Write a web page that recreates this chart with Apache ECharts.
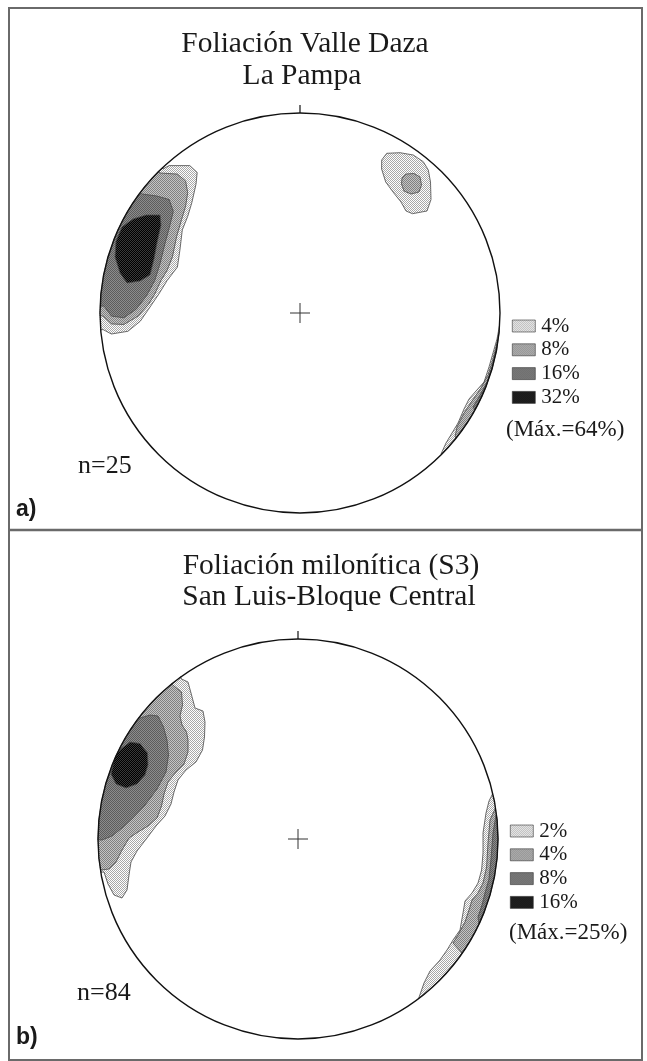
<!DOCTYPE html>
<html>
<head>
<meta charset="utf-8">
<script src="https://cdn.jsdelivr.net/npm/echarts@6/dist/echarts.min.js"></script>
<style>
html, body { margin: 0; padding: 0; background: #fff; }
#chart { width: 647px; height: 1061px; }
</style>
</head>
<body>
<div id="chart"></div>
<script>
// texts
const titlesA = ['Foliación Valle Daza', 'La Pampa'];
const titlesB = ['Foliación milonítica (S3)', 'San Luis-Bloque Central'];
const levelsA = ['4%', '8%', '16%', '32%'];
const levelsB = ['2%', '4%', '8%', '16%'];
const maxA = '(Máx.=64%)';
const maxB = '(Máx.=25%)';
const countA = 'n=25';
const countB = 'n=84';

// contour polygons, x = east, y = north, 1 = radius of the primitive circle
// (points beyond radius 1 are hidden by the mask ring)
const a4 = [
    [[-0.685,0.72],[-0.6545,0.737],[-0.551,0.737],[-0.514,0.703],[-0.52,0.644],[-0.541,0.551],[-0.5615,0.483],[-0.5885,0.4155],[-0.6005,0.314],[-0.613,0.2295],[-0.6645,0.162],[-0.706,0.0945],[-0.7575,0.0185],[-0.7985,-0.041],[-0.8605,-0.0915],[-0.943,-0.105],[-0.9845,-0.083],[-1.08,-0.09],[-1.07,0.19],[-0.98,0.46],[-0.83,0.7],[-0.74,0.79]],
    [[0.4085,0.765],[0.4335,0.7985],[0.5,0.8015],[0.5665,0.79],[0.6165,0.7565],[0.6415,0.715],[0.6525,0.655],[0.655,0.5675],[0.635,0.51],[0.5625,0.4965],[0.53,0.51],[0.505,0.555],[0.465,0.605],[0.4285,0.655],[0.408,0.72]],
    [[0.998,-0.06],[0.985,-0.13],[0.965,-0.2],[0.945,-0.27],[0.92,-0.345],[0.88,-0.39],[0.845,-0.43],[0.82,-0.48],[0.79,-0.55],[0.76,-0.6],[0.73,-0.65],[0.705,-0.705],[0.78,-0.78],[0.93,-0.6],[1.05,-0.35],[1.09,-0.1],[1.08,-0.04]]
];
const a8 = [
    [[-0.7,0.7],[-0.613,0.6945],[-0.572,0.6605],[-0.5615,0.6015],[-0.572,0.534],[-0.5925,0.4665],[-0.617,0.382],[-0.638,0.2805],[-0.665,0.2125],[-0.6955,0.162],[-0.7265,0.0945],[-0.7575,0.0435],[-0.809,-0.0155],[-0.881,-0.0575],[-0.943,-0.0545],[-0.9845,-0.0155],[-1.08,0.0],[-1.04,0.3],[-0.92,0.56],[-0.77,0.76]],
    [[0.51,0.675],[0.53,0.695],[0.57,0.6975],[0.6,0.68],[0.6075,0.64],[0.595,0.605],[0.555,0.595],[0.52,0.61],[0.5075,0.645]],
    [[0.998,-0.09],[0.98,-0.17],[0.962,-0.24],[0.94,-0.31],[0.905,-0.375],[0.86,-0.44],[0.82,-0.5],[0.785,-0.57],[0.775,-0.62],[0.82,-0.66],[1.0,-0.45],[1.08,-0.15]]
];
const a16 = [
    [[-0.79,0.595],[-0.716,0.585],[-0.6545,0.5675],[-0.6335,0.5085],[-0.65,0.441],[-0.675,0.348],[-0.7,0.2465],[-0.7265,0.162],[-0.7675,0.086],[-0.8195,0.0185],[-0.881,-0.024],[-0.943,-0.0155],[-0.98,0.035],[-1.08,0.03],[-1.03,0.35],[-0.86,0.66]],
    [[0.997,-0.1],[0.98,-0.19],[0.96,-0.27],[0.935,-0.345],[0.895,-0.42],[0.865,-0.47],[0.875,-0.485],[1.0,-0.4],[1.08,-0.15]]
];
const a32 = [
    [[-0.7,0.49],[-0.695,0.44],[-0.715,0.35],[-0.73,0.27],[-0.75,0.19],[-0.8,0.16],[-0.865,0.15],[-0.9,0.2],[-0.925,0.28],[-0.92,0.36],[-0.89,0.43],[-0.835,0.47],[-0.77,0.49]]
];

const b2 = [
    [[-0.5825,0.8],[-0.55,0.785],[-0.535,0.73],[-0.515,0.655],[-0.475,0.64],[-0.465,0.585],[-0.4675,0.51],[-0.4775,0.445],[-0.51,0.385],[-0.56,0.345],[-0.6,0.295],[-0.62,0.235],[-0.635,0.175],[-0.665,0.115],[-0.71,0.065],[-0.755,0.005],[-0.805,-0.06],[-0.835,-0.115],[-0.845,-0.18],[-0.855,-0.255],[-0.88,-0.295],[-0.92,-0.28],[-0.95,-0.225],[-0.97,-0.165],[-1.08,-0.17],[-1.07,0.2],[-0.96,0.5],[-0.75,0.8],[-0.62,0.9]],
    [[0.975,0.23],[0.955,0.19],[0.94,0.13],[0.925,0.03],[0.925,-0.07],[0.918,-0.155],[0.9,-0.22],[0.87,-0.27],[0.835,-0.31],[0.825,-0.37],[0.81,-0.455],[0.775,-0.505],[0.745,-0.555],[0.71,-0.605],[0.66,-0.66],[0.63,-0.72],[0.603,-0.7975],[0.66,-0.87],[0.88,-0.62],[1.05,-0.3],[1.08,0.05],[1.05,0.3]]
];
const b4 = [
    [[-0.62,0.765],[-0.5825,0.735],[-0.5775,0.67],[-0.59,0.615],[-0.58,0.57],[-0.5575,0.535],[-0.55,0.495],[-0.55,0.435],[-0.57,0.375],[-0.61,0.335],[-0.65,0.285],[-0.67,0.225],[-0.6825,0.165],[-0.705,0.105],[-0.75,0.065],[-0.8,0.035],[-0.845,0.005],[-0.88,-0.055],[-0.91,-0.115],[-0.945,-0.15],[-0.985,-0.155],[-1.08,-0.16],[-1.07,0.2],[-0.96,0.5],[-0.8,0.72],[-0.68,0.82]],
    [[0.985,0.15],[0.96,0.095],[0.95,-0.02],[0.943,-0.14],[0.925,-0.22],[0.9,-0.27],[0.87,-0.305],[0.855,-0.355],[0.835,-0.415],[0.8,-0.48],[0.775,-0.52],[0.82,-0.57],[0.9,-0.58],[1.05,-0.3],[1.08,0.05],[1.05,0.25]]
];
const b8 = [
    [[-0.79,0.605],[-0.74,0.62],[-0.7,0.615],[-0.6725,0.56],[-0.655,0.495],[-0.6475,0.42],[-0.66,0.335],[-0.705,0.25],[-0.765,0.17],[-0.825,0.105],[-0.88,0.055],[-0.93,0.015],[-0.98,-0.005],[-1.08,0.0],[-1.03,0.35],[-0.88,0.64]],
    [[0.99,0.12],[0.975,0.03],[0.965,-0.1],[0.955,-0.2],[0.935,-0.27],[0.92,-0.33],[0.9,-0.39],[0.905,-0.425],[1.0,-0.45],[1.08,-0.1],[1.07,0.15]]
];
const b16 = [
    [[-0.84,0.485],[-0.79,0.4775],[-0.7525,0.43],[-0.75,0.37],[-0.765,0.32],[-0.805,0.275],[-0.86,0.255],[-0.91,0.275],[-0.935,0.325],[-0.925,0.37],[-0.915,0.415],[-0.885,0.45]]
];

// halftone like fills
function makePattern(c1, c2) {
    const cv = document.createElement('canvas');
    cv.width = 2; cv.height = 2;
    const ctx = cv.getContext('2d');
    ctx.fillStyle = c1; ctx.fillRect(0, 0, 2, 2);
    ctx.fillStyle = c2; ctx.fillRect(0, 0, 1, 1); ctx.fillRect(1, 1, 1, 1);
    return { image: cv, repeat: 'repeat' };
}
const fills = [
    makePattern('#ffffff', '#a8a8a8'),
    makePattern('#c4c4c4', '#808080'),
    makePattern('#8c8c8c', '#5c5c5c'),
    makePattern('#000000', '#3a3a3a')
];

const serif = '"Liberation Serif", "DejaVu Serif", serif';

function contourSeries(name, gi, polys, fill) {
    return {
        type: 'custom', name: name, xAxisIndex: gi, yAxisIndex: gi,
        clip: false, silent: true, z: 2,
        itemStyle: { color: fill },
        data: polys.map(p => p[0]),
        renderItem: (params, api) => {
            const pts = polys[params.dataIndex].map(p => api.coord(p));
            return {
                type: 'polygon', shape: { points: pts },
                style: { fill: fill, stroke: '#4a4a4a', lineWidth: 0.8 }
            };
        }
    };
}

// primitive circle, centre cross, north tick, and a white ring that clips the contours
function netSeries(gi) {
    return {
        type: 'custom', xAxisIndex: gi, yAxisIndex: gi, clip: false, silent: true, z: 3,
        data: [[0, 0]],
        renderItem: (params, api) => {
            const c = api.coord([0, 0]);
            const r = api.size([1, 1])[0];
            const top = api.coord([0, 1]);
            const cs = api.size([0.05, 0.05])[0];
            return {
                type: 'group', children: [
                    { type: 'circle', shape: { cx: c[0], cy: c[1], r: r + 12 }, style: { fill: 'none', stroke: '#fff', lineWidth: 23 } },
                    { type: 'circle', shape: { cx: c[0], cy: c[1], r: r }, style: { fill: 'none', stroke: '#111', lineWidth: 1.4 } },
                    { type: 'line', shape: { x1: c[0] - cs, y1: c[1], x2: c[0] + cs, y2: c[1] }, style: { stroke: '#333', lineWidth: 1 } },
                    { type: 'line', shape: { x1: c[0], y1: c[1] - cs, x2: c[0], y2: c[1] + cs }, style: { stroke: '#333', lineWidth: 1 } },
                    { type: 'line', shape: { x1: top[0], y1: top[1] - 8, x2: top[0], y2: top[1] }, style: { stroke: '#111', lineWidth: 1.2 } }
                ]
            };
        }
    };
}

function legendFor(prefix, levels, left, top) {
    return {
        orient: 'vertical', left: left, top: top, padding: 0,
        itemWidth: 23, itemHeight: 12, itemGap: 2.8, icon: 'rect',
        selectedMode: false, z: 10,
        data: levels.map(l => prefix + '|' + l),
        formatter: n => n.split('|')[1],
        itemStyle: { borderColor: '#333', borderWidth: 0.6 },
        textStyle: { fontFamily: serif, fontSize: 21, color: '#1a1a1a', padding: [0, 0, 0, 1] }
    };
}

function text(str, x, y, font, align) {
    return {
        type: 'text', x: x, y: y, z: 10,
        style: { text: str, font: font, fill: '#1a1a1a', textAlign: align || 'center', textVerticalAlign: 'middle' }
    };
}

const chart = echarts.init(document.getElementById('chart'));
chart.setOption({
    animation: false,
    backgroundColor: '#fff',
    grid: [
        { left: 100, top: 113, width: 400, height: 400 },
        { left: 98, top: 639, width: 400, height: 400 }
    ],
    xAxis: [0, 1].map(i => ({ type: 'value', gridIndex: i, min: -1, max: 1, show: false })),
    yAxis: [0, 1].map(i => ({ type: 'value', gridIndex: i, min: -1, max: 1, show: false })),
    legend: [legendFor('a', levelsA, 512, 315.5), legendFor('b', levelsB, 510, 820.5)],
    series: [
        contourSeries('a|4%', 0, a4, fills[0]),
        contourSeries('a|8%', 0, a8, fills[1]),
        contourSeries('a|16%', 0, a16, fills[2]),
        contourSeries('a|32%', 0, a32, fills[3]),
        contourSeries('b|2%', 1, b2, fills[0]),
        contourSeries('b|4%', 1, b4, fills[1]),
        contourSeries('b|8%', 1, b8, fills[2]),
        contourSeries('b|16%', 1, b16, fills[3]),
        netSeries(0),
        netSeries(1)
    ],
    graphic: [
        { type: 'rect', z: 10, shape: { x: 9, y: 8, width: 633, height: 1052 }, style: { fill: 'none', stroke: '#6a6a6a', lineWidth: 2 } },
        { type: 'line', z: 10, shape: { x1: 9, y1: 530, x2: 642, y2: 530 }, style: { stroke: '#6a6a6a', lineWidth: 2.5 } },
        text(titlesA[0], 305, 44, '29.5px ' + serif),
        text(titlesA[1], 302, 76, '29.5px ' + serif),
        text(titlesB[0], 331, 566, '29.5px ' + serif),
        text(titlesB[1], 329, 597, '29.5px ' + serif),
        text(maxA, 506, 430, '23px ' + serif, 'left'),
        text(maxB, 509, 933, '23px ' + serif, 'left'),
        text(countA, 78, 466, '26px ' + serif, 'left'),
        text(countB, 77, 993, '26px ' + serif, 'left'),
        text('a)', 16, 510, 'bold 23px "Liberation Sans", Arial, sans-serif', 'left'),
        text('b)', 16, 1038, 'bold 23px "Liberation Sans", Arial, sans-serif', 'left')
    ]
});
</script>
</body>
</html>
